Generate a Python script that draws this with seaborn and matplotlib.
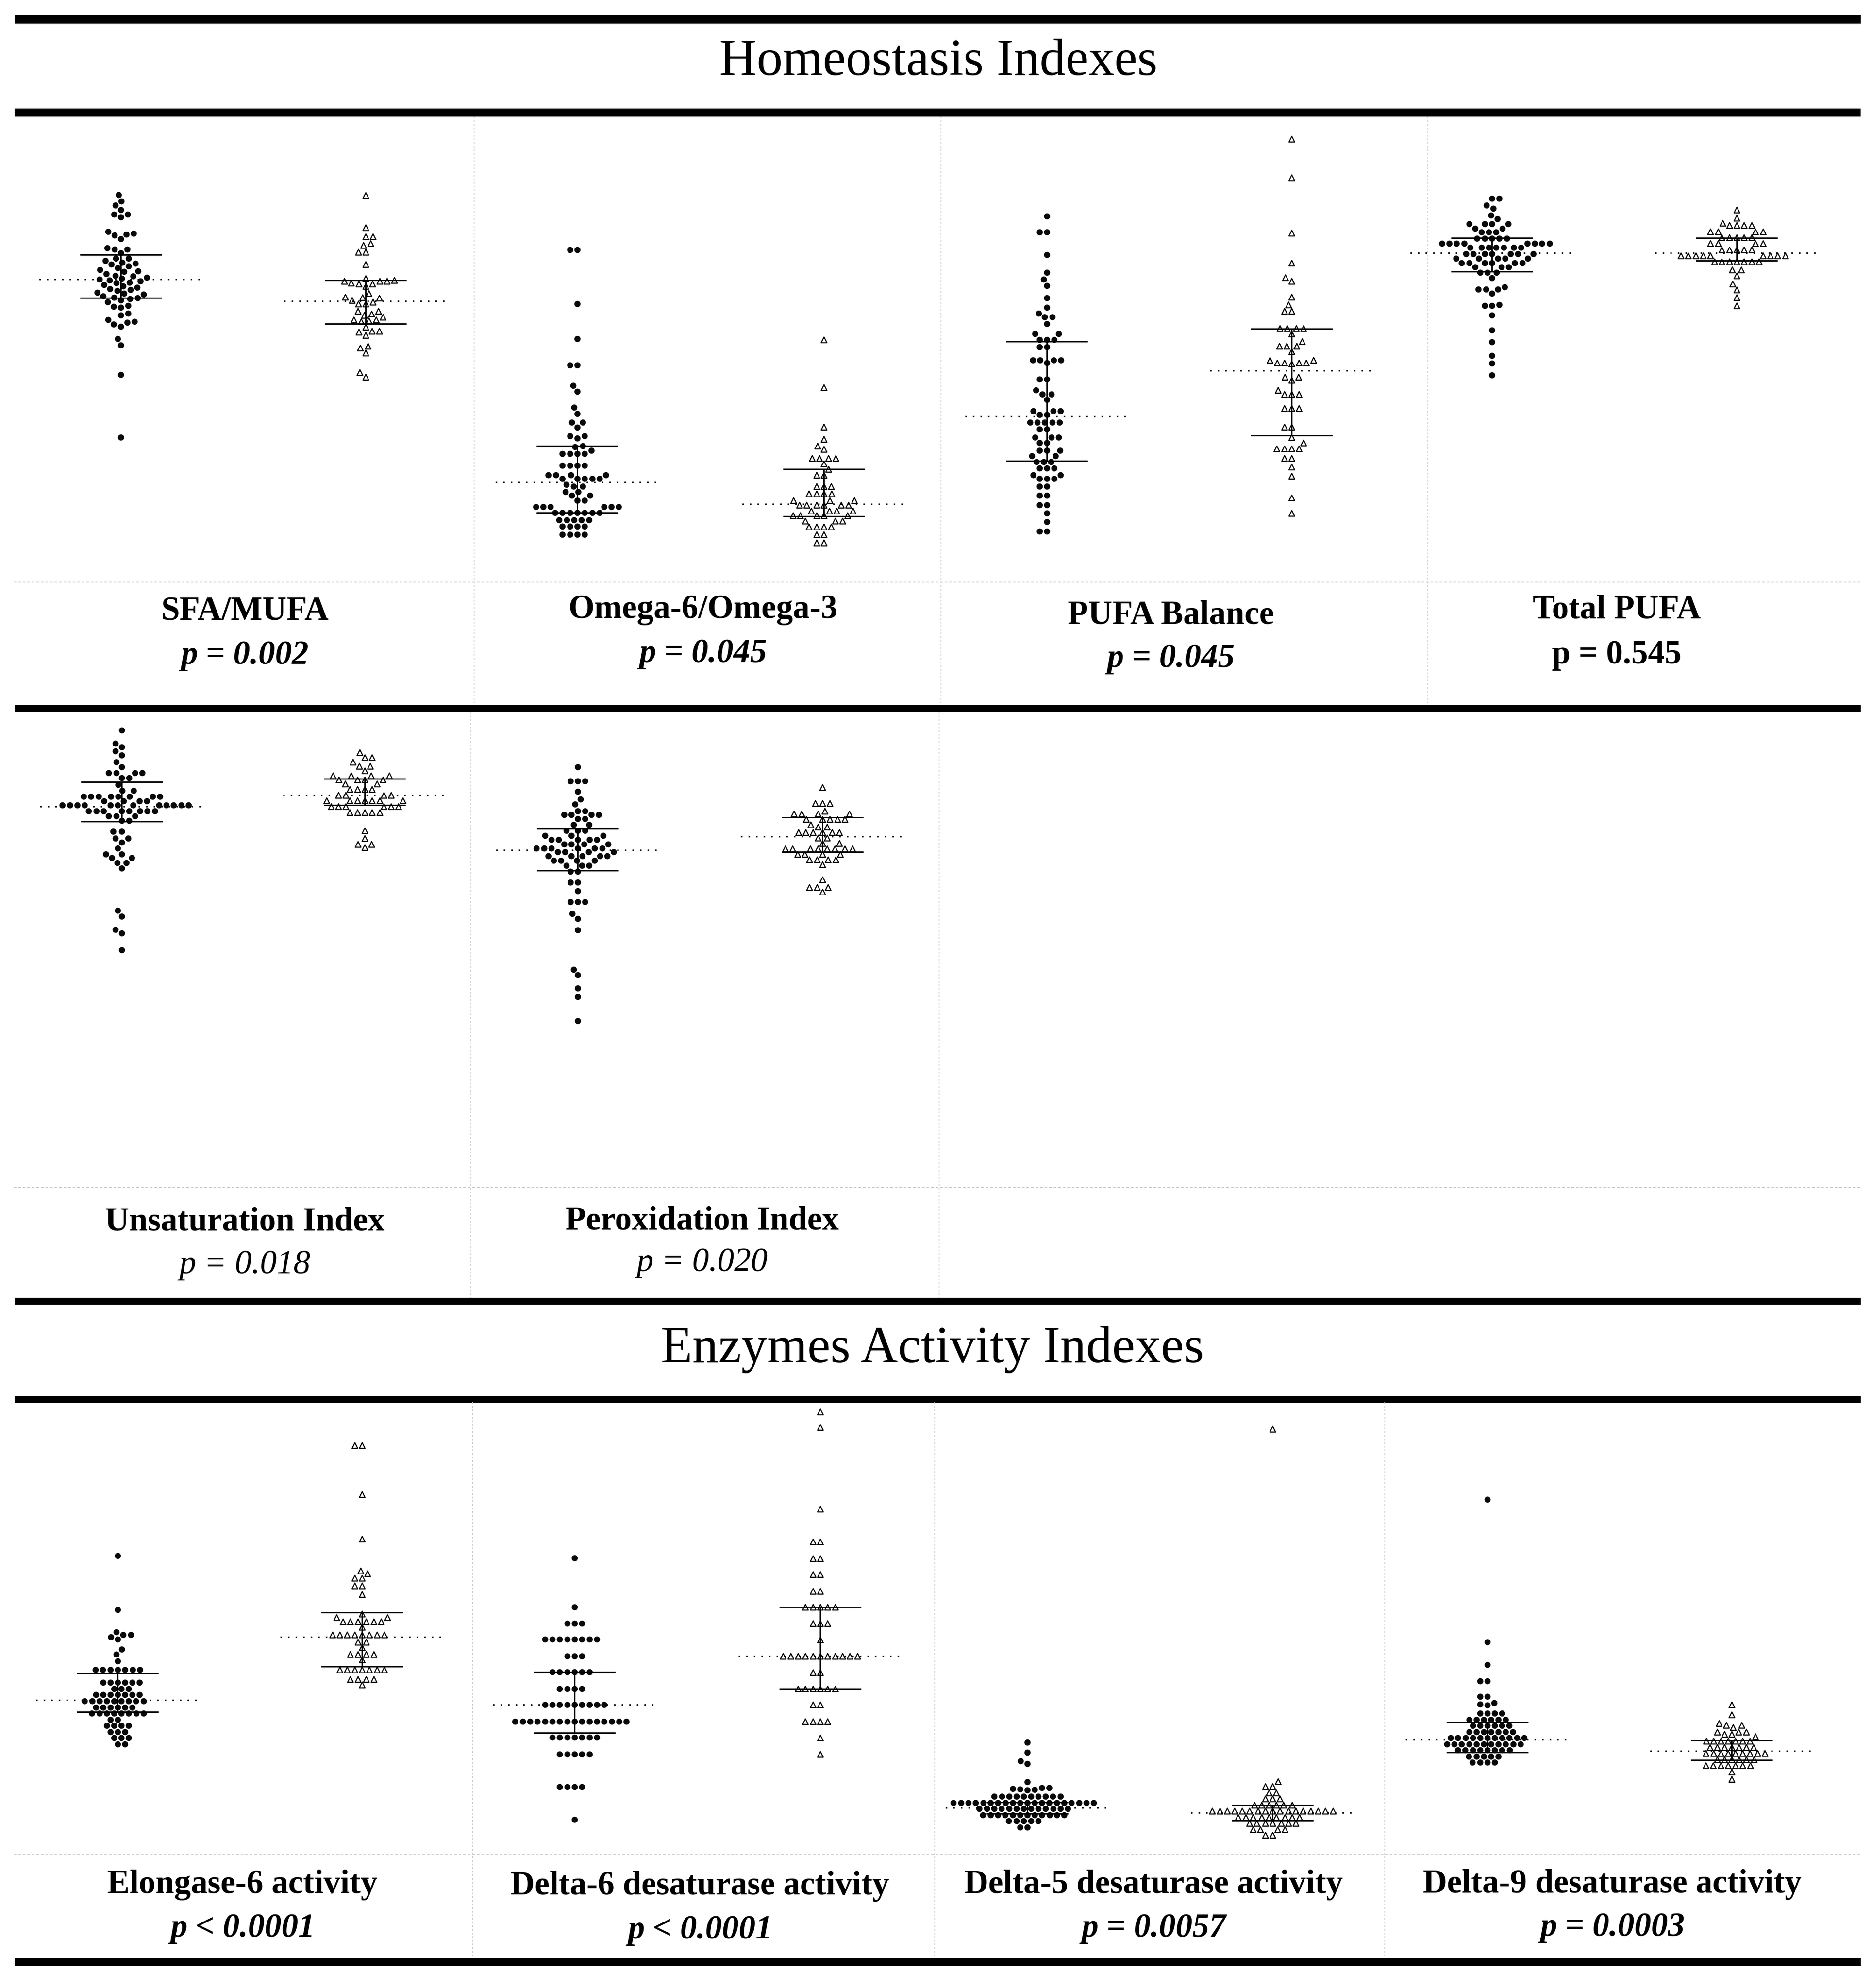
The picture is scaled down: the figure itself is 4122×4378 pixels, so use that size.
import matplotlib
matplotlib.use("Agg")
import matplotlib.pyplot as plt
import numpy as np
import pandas as pd
import seaborn as sns
import warnings
warnings.filterwarnings("ignore")

# ---------------------------------------------------------------- data
# values are relative heights (no y scale is shown)
GROUPS = ["Group A", "Group B"]

SFA_G1 = [103.0, 101.3, 100.2, 98.9, 97.7, 97.7, 97.0, 93.2, 92.7, 92.5, 92.2, 91.2, 88.8, 88.5, 87.5, 88.5,
          86.0, 86.0, 85.5, 85.0, 84.7, 84.5, 84.0, 83.5, 83.0, 82.7, 82.5, 82.0, 81.5, 81.3, 81.0, 80.7,
          80.5, 80.3, 80.0, 79.7, 79.5, 79.0, 78.7, 78.3, 78.0, 77.7, 77.5, 77.0, 76.7, 76.5, 76.0, 75.7,
          75.5, 75.3, 75.0, 74.5, 73.5, 73.3, 73.0, 71.5, 71.0, 69.7, 69.3, 69.0, 68.5, 68.0, 64.7, 63.0,
          55.2, 38.5]
SFA_G2 = [102.8, 94.2, 91.8, 91.8, 89.5, 90.0, 87.7, 87.7, 84.5, 80.2, 80.0, 79.3, 79.5, 80.7, 78.7, 79.3,
          80.0, 80.0, 76.7, 75.7, 74.0, 75.0, 74.0, 75.5, 74.5, 75.8, 72.0, 71.0, 72.0, 70.5, 71.3, 69.5,
          69.7, 69.3, 69.7, 67.8, 66.7, 65.7, 66.5, 66.7, 62.3, 61.0, 62.8, 54.5, 55.7]

OMEGA_G1 = [88.3, 88.3, 74.0, 64.7, 57.7, 57.7, 52.3, 50.7, 46.5, 44.8, 42.5, 42.5, 41.2, 38.8, 38.8, 38.3,
            36.0, 36.2, 35.0, 34.2, 34.2, 34.2, 34.2, 31.0, 31.0, 31.0, 31.0, 28.5, 28.5, 28.5, 28.5, 27.5,
            27.5, 27.5, 27.5, 27.5, 25.5, 25.5, 26.0, 24.0, 24.0, 23.0, 23.0, 21.7, 21.7, 20.0, 20.0, 20.0,
            20.0, 20.0, 20.0, 18.5, 18.5, 18.5, 18.5, 18.5, 18.5, 18.5, 16.5, 16.5, 16.5, 16.5, 16.5, 14.8,
            14.8, 14.8, 14.8, 12.7, 12.7, 12.7, 12.7]
OMEGA_G2 = [64.5, 51.8, 41.3, 38.0, 35.3, 36.2, 33.0, 33.0, 33.0, 33.0, 31.5, 30.0, 28.5, 28.5, 25.5, 25.5,
            25.5, 23.5, 23.5, 23.5, 23.5, 21.7, 21.7, 21.7, 20.5, 20.5, 20.5, 20.5, 20.5, 20.5, 19.0, 19.0,
            19.0, 19.0, 17.7, 17.7, 17.7, 17.7, 17.7, 16.3, 16.3, 16.3, 14.7, 14.7, 14.7, 14.7, 12.7, 12.7,
            10.5, 10.5]

PUFAB_G1 = [97.3, 93.0, 93.0, 87.0, 82.3, 80.5, 78.8, 75.5, 73.0, 71.5, 70.5, 70.5, 68.7, 66.0, 66.0, 64.5,
            64.5, 64.5, 62.5, 62.5, 59.0, 59.0, 59.0, 59.0, 58.3, 54.0, 54.0, 51.0, 50.0, 50.0, 48.5, 45.5,
            45.5, 45.5, 44.5, 44.5, 42.5, 42.5, 42.5, 42.5, 42.5, 40.7, 40.7, 38.5, 38.5, 38.5, 37.0, 37.0,
            35.0, 35.0, 35.0, 33.5, 33.5, 32.0, 32.0, 32.0, 30.3, 30.3, 30.3, 28.5, 28.5, 27.5, 27.5, 27.5,
            25.5, 25.5, 23.0, 23.0, 20.5, 20.5, 18.3, 16.0, 13.5, 13.5]
PUFAB_G2 = [117.8, 107.5, 92.8, 84.9, 81.0, 80.0, 75.8, 73.7, 72.0, 72.0, 67.5, 67.5, 67.5, 67.5, 66.0, 64.0,
            62.7, 62.7, 62.7, 61.3, 59.0, 59.0, 58.3, 58.3, 58.3, 58.3, 58.0, 54.5, 54.5, 53.7, 51.0, 50.0,
            50.0, 50.0, 46.2, 46.2, 46.2, 41.3, 41.3, 38.5, 37.0, 35.5, 35.5, 35.5, 35.5, 33.0, 33.0, 30.7,
            28.3, 22.5, 18.3]

TOTAL_G1 = [102.0, 102.0, 100.2, 99.3, 97.5, 96.5, 95.2, 95.2, 95.2, 95.2, 94.0, 94.0, 93.0, 93.0, 93.0, 91.3,
            91.3, 91.3, 91.3, 91.3, 90.0, 90.0, 90.0, 90.0, 90.0, 90.0, 90.0, 90.0, 89.0, 89.0, 89.0, 89.0,
            89.0, 89.0, 89.0, 87.3, 87.3, 87.3, 87.3, 87.3, 87.3, 87.3, 86.0, 86.0, 86.0, 86.0, 86.0, 84.8,
            84.8, 84.8, 84.8, 84.8, 84.8, 83.7, 83.7, 83.7, 82.3, 82.3, 82.3, 80.8, 78.5, 77.8, 77.8, 77.8,
            76.7, 73.5, 73.5, 73.7, 71.0, 67.0, 63.8, 60.2, 58.2, 55.0]
TOTAL_G2 = [99.0, 96.8, 95.5, 94.8, 94.8, 94.8, 94.8, 93.2, 93.2, 93.2, 93.2, 91.6, 91.6, 91.6, 91.6, 91.6,
            90.0, 90.0, 90.0, 90.0, 88.4, 88.4, 88.4, 88.4, 88.4, 86.8, 86.8, 86.8, 86.8, 86.8, 86.8, 86.8,
            86.8, 86.8, 85.2, 85.2, 85.2, 85.2, 85.2, 85.2, 85.2, 83.0, 83.0, 81.5, 79.3, 77.7, 75.7, 73.5]

UNSAT_G1 = [117.0, 113.6, 112.6, 111.6, 110.6, 108.8, 107.6, 106.0, 106.0, 106.0, 106.0, 104.8, 104.8, 103.0,
            101.5, 101.5, 100.0, 100.0, 100.0, 100.0, 100.0, 100.0, 100.0, 100.0, 98.8, 98.8, 98.8, 98.8,
            97.8, 97.8, 97.8, 97.8, 97.8, 97.8, 97.8, 97.8, 97.8, 97.8, 97.8, 97.8, 96.3, 96.3, 96.3, 96.3,
            96.3, 96.3, 96.3, 96.3, 95.0, 95.0, 95.0, 93.8, 93.8, 91.0, 91.0, 89.3, 89.3, 88.3, 86.8, 85.3,
            85.3, 84.3, 84.3, 83.0, 83.0, 81.6, 70.8, 69.3, 66.0, 65.0, 60.8]
UNSAT_G2 = [111.3, 110.0, 110.0, 108.8, 107.8, 107.8, 106.6, 105.3, 105.3, 105.3, 105.3, 104.3, 104.3, 104.3,
            104.3, 103.3, 103.3, 101.9, 101.9, 101.9, 101.9, 100.4, 100.4, 100.4, 100.4, 98.9, 98.9, 98.9,
            98.9, 98.9, 98.9, 98.9, 97.4, 97.4, 97.4, 97.4, 97.4, 97.4, 95.9, 95.9, 95.9, 95.9, 95.9,
            91.3, 89.3, 87.8, 87.8, 87.0]

PEROX_G1 = [107.6, 104.0, 104.0, 104.0, 101.3, 99.3, 98.0, 96.3, 96.3, 95.3, 95.3, 95.3, 95.3, 94.3, 94.3,
            92.8, 92.8, 91.3, 91.3, 91.3, 90.0, 90.0, 90.0, 89.0, 89.0, 89.0, 89.0, 89.0, 87.8, 87.8, 87.8,
            87.8, 86.8, 86.8, 86.8, 86.8, 86.8, 86.8, 85.8, 85.8, 85.8, 85.8, 84.8, 84.8, 84.8, 84.8, 84.8,
            83.6, 83.6, 83.6, 83.6, 82.3, 82.3, 82.3, 80.8, 80.8, 78.0, 78.0, 75.8, 73.0, 73.0, 73.0, 70.0,
            68.8, 65.8, 55.8, 54.3, 51.0, 48.8, 42.6]
PEROX_G2 = [102.3, 98.3, 98.3, 98.3, 96.3, 95.6, 95.6, 95.6, 95.6, 94.2, 94.2, 94.2, 94.2, 94.2, 92.8, 92.2,
            92.2, 90.8, 90.8, 90.8, 90.8, 90.8, 90.8, 89.4, 89.4, 88.0, 88.0, 86.6, 86.6, 86.6, 86.6, 86.6,
            86.6, 86.6, 86.6, 85.2, 85.2, 85.2, 85.2, 83.8, 83.8, 83.8, 83.8, 82.6, 78.8, 76.8, 76.8, 76.8,
            75.6]

ELONG_G1 = [77.6, 63.5, 57.0, 56.5, 55.8, 57.0, 57.7, 53.2, 52.0, 50.2, 48.0, 48.0, 48.0, 48.0, 48.0, 48.0,
            48.0, 44.6, 44.6, 44.6, 44.6, 44.6, 44.6, 43.0, 43.0, 43.0, 41.4, 41.4, 41.4, 41.4, 41.4, 41.4,
            41.4, 39.8, 39.8, 39.8, 39.8, 39.8, 39.8, 39.8, 39.8, 39.8, 38.2, 38.2, 38.2, 38.2, 38.2, 38.2,
            36.6, 36.6, 36.6, 36.6, 36.6, 36.6, 36.6, 36.6, 35.0, 35.0, 33.4, 33.4, 33.4, 33.4, 31.8, 31.8,
            31.8, 30.2, 30.2, 30.2, 28.6, 28.6]
ELONG_G2 = [106.3, 106.3, 93.5, 82.0, 73.7, 73.0, 71.8, 71.8, 69.8, 69.8, 67.5, 62.5, 61.5, 61.5, 60.5, 60.5,
            60.5, 60.5, 60.5, 60.5, 59.0, 57.0, 57.0, 57.0, 57.0, 57.0, 57.0, 57.0, 57.0, 55.2, 55.2, 53.7,
            52.0, 52.0, 52.0, 52.0, 50.5, 48.0, 48.0, 48.0, 48.0, 48.0, 48.0, 48.0, 45.5, 45.5, 45.5, 45.5,
            44.0]

D6_G1 = [77.0, 64.3, 60.0, 60.0, 60.0, 55.8, 55.8, 55.8, 55.8, 55.8, 55.8, 55.8, 55.8, 51.5, 51.5, 51.5,
         47.3, 47.3, 47.3, 47.3, 47.3, 47.3, 43.0, 43.0, 43.0, 43.0, 38.8, 38.8, 38.8, 38.8, 38.8, 38.8,
         38.8, 38.8, 38.8, 34.5, 34.5, 34.5, 34.5, 34.5, 34.5, 34.5, 34.5, 34.5, 34.5, 34.5, 34.5, 34.5,
         34.5, 34.5, 34.5, 30.3, 30.3, 30.3, 30.3, 30.3, 30.3, 30.3, 26.0, 26.0, 26.0, 26.0, 26.0, 17.5,
         17.5, 17.5, 17.5, 9.0]
D6_G2 = [115.0, 111.0, 89.7, 81.2, 81.2, 76.9, 76.9, 72.7, 72.7, 68.4, 68.4, 64.3, 64.3, 64.3, 64.3, 64.3,
         60.0, 60.0, 60.0, 55.7, 51.5, 51.5, 51.5, 51.5, 51.5, 51.5, 51.5, 51.5, 51.5, 51.5, 51.5, 47.2,
         47.2, 43.0, 43.0, 43.0, 43.0, 43.0, 43.0, 38.8, 38.8, 34.5, 34.5, 34.5, 34.5, 30.2, 26.0]

D5_G1 = [29.0, 26.5, 24.2, 23.5, 18.8, 17.2, 16.8, 16.6, 17.0, 16.9, 17.3, 15.0, 15.0, 15.0, 15.0, 15.0,
         15.0, 15.0, 15.0, 15.0, 15.0, 13.4, 13.4, 13.4, 13.4, 13.4, 13.4, 13.4, 13.4, 13.4, 13.4, 13.4,
         13.4, 13.4, 13.4, 13.4, 13.4, 13.4, 13.4, 13.4, 13.4, 11.8, 11.8, 11.8, 11.8, 11.8, 11.8, 11.8,
         11.8, 11.8, 11.8, 11.8, 11.8, 11.8, 10.2, 10.2, 10.2, 10.2, 10.2, 10.2, 10.2, 10.2, 10.2, 10.2,
         10.2, 10.2, 8.6, 8.6, 8.6, 8.6, 8.6, 7.0, 7.0]
D5_G2 = [110.5, 18.9, 17.6, 17.6, 16.0, 16.0, 14.4, 14.4, 14.4, 12.8, 12.8, 12.8, 12.8, 12.8, 12.8, 11.2,
         11.2, 11.2, 11.2, 11.2, 11.2, 11.2, 11.2, 11.2, 11.2, 11.2, 11.2, 11.2, 11.2, 11.2, 11.2, 11.2,
         9.6, 9.6, 9.6, 9.6, 9.6, 9.6, 9.6, 9.6, 9.6, 8.0, 8.0, 8.0, 8.0, 8.0, 8.0, 8.0, 6.4, 6.4,
         6.4, 6.4, 5.0, 5.0]

D9_G1 = [92.2, 55.2, 49.3, 45.0, 45.0, 41.0, 41.0, 39.0, 38.7, 39.3, 36.6, 36.6, 36.6, 36.6, 35.0, 35.0,
         35.0, 35.0, 35.0, 35.0, 33.4, 33.4, 33.4, 33.4, 33.4, 33.4, 31.8, 31.8, 31.8, 31.8, 31.8, 31.8,
         31.8, 30.2, 30.2, 30.2, 30.2, 30.2, 30.2, 30.2, 30.2, 30.2, 30.2, 30.2, 28.6, 28.6, 28.6, 28.6,
         28.6, 28.6, 28.6, 28.6, 28.6, 28.6, 28.6, 27.0, 27.0, 27.0, 27.0, 27.0, 27.0, 27.0, 27.0, 25.4,
         25.4, 25.4, 25.4, 25.4, 23.8, 23.8, 23.8, 23.8]
D9_G2 = [38.8, 36.2, 33.5, 33.5, 34.0, 33.0, 31.8, 31.8, 31.8, 31.2, 31.2, 30.6, 29.4, 29.4, 29.4, 29.4,
         29.4, 29.4, 29.4, 27.8, 27.8, 27.8, 27.8, 27.8, 27.8, 27.8, 26.2, 26.2, 26.2, 26.2, 26.2, 26.2,
         26.2, 26.2, 26.2, 24.6, 24.6, 24.6, 24.6, 24.6, 24.6, 23.0, 23.0, 23.0, 23.0, 23.0, 23.0, 23.0,
         21.4, 19.5]

# median, lower quartile, upper quartile for (group A, group B)
SFA_STATS = [(80.5, 75.5, 87.0), (74.7, 68.7, 80.2)]
OMEGA_STATS = [(26.5, 18.5, 36.2), (20.8, 17.5, 30.0)]
PUFAB_STATS = [(44.0, 32.2, 64.0), (56.2, 39.0, 67.3)]
TOTAL_STATS = [(87.5, 82.5, 91.5), (87.5, 85.5, 91.5)]
UNSAT_STATS = [(97.5, 93.6, 103.7), (100.3, 97.8, 104.5)]
PEROX_STATS = [(86.3, 81.1, 91.8), (89.8, 85.8, 94.6)]
ELONG_STATS = [(40.0, 37.0, 47.0), (56.5, 48.8, 62.8)]
D6_STATS = [(38.8, 31.5, 47.3), (51.5, 43.0, 64.3)]
D5_STATS = [(12.0, 10.5, 13.5), (10.8, 8.7, 12.8)]
D9_STATS = [(29.8, 26.5, 34.2), (26.8, 24.5, 29.5)]

SECTION_TITLES = ["Homeostasis Indexes", "Enzymes Activity Indexes"]
LABELS = ["SFA/MUFA", "Omega-6/Omega-3", "PUFA Balance", "Total PUFA",
          "Unsaturation Index", "Peroxidation Index",
          "Elongase-6 activity", "Delta-6 desaturase activity",
          "Delta-5 desaturase activity", "Delta-9 desaturase activity"]
PVALUES = ["p = 0.002", "p = 0.045", "p = 0.045", "p = 0.545",
           "p = 0.018", "p = 0.020",
           "p < 0.0001", "p < 0.0001", "p = 0.0057", "p = 0.0003"]

# ---------------------------------------------------------------- layout (pixels)
W, H, DPI = 4122, 4378, 100
sns.set_theme(style="white")
plt.rcParams["font.family"] = ["Liberation Serif", "DejaVu Serif"]

fig = plt.figure(figsize=(W / DPI, H / DPI), dpi=DPI)
fig.patch.set_facecolor("white")
bg = fig.add_axes([0, 0, 1, 1])
bg.set_xlim(0, W)
bg.set_ylim(H, 0)
bg.axis("off")

PX = 0.72  # points per pixel at 100 dpi
PITCH = 11.2  # spacing size used by the swarm layout (points)
DOT_STYLE = dict(marker="o", s=9.8 ** 2, c="#0a0a0a", linewidths=0, zorder=2)
TRI_STYLE = dict(marker="^", s=9.0 ** 2, facecolors="white", edgecolors="#000000",
                 linewidths=1.7, zorder=2)

# rows: (top px, bottom px, y-limit)
ROWS = {0: (257, 1282, 123.7), 1: (1568, 2615, 121.6), 2: (3088, 4083, 117.5)}

# panel: (data1, data2, stats, row, x of group A, x of group B, label x, label baseline, p baseline, p style)
PANELS = [
    (SFA_G1, SFA_G2, SFA_STATS, 0, 266, 805, 539, 1365, 1462, "bi"),
    (OMEGA_G1, OMEGA_G2, OMEGA_STATS, 0, 1271, 1814, 1548, 1361, 1458, "bi"),
    (PUFAB_G1, PUFAB_G2, PUFAB_STATS, 0, 2305, 2844, 2578, 1373, 1469, "bi"),
    (TOTAL_G1, TOTAL_G2, TOTAL_STATS, 0, 3285, 3824, 3560, 1361, 1461, "b"),
    (UNSAT_G1, UNSAT_G2, UNSAT_STATS, 1, 268, 803, 539, 2710, 2804, "i"),
    (PEROX_G1, PEROX_G2, PEROX_STATS, 1, 1272, 1811, 1546, 2707, 2799, "i"),
    (ELONG_G1, ELONG_G2, ELONG_STATS, 2, 259, 797, 534, 4169, 4265, "bi"),
    (D6_G1, D6_G2, D6_STATS, 2, 1265, 1806, 1541, 4172, 4269, "bi"),
    (D5_G1, D5_G2, D5_STATS, 2, 2262, 2802, 2540, 4169, 4265, "bi"),
    (D9_G1, D9_G2, D9_STATS, 2, 3275, 3813, 3550, 4168, 4263, "bi"),
]

# ---------------------------------------------------------------- frame lines
def hline(y, x0, x1, lw_px, color="black", ls="-"):
    bg.plot([x0, x1], [y, y], color=color, lw=lw_px * PX, ls=ls, solid_capstyle="butt", zorder=1)

def vline(x, y0, y1, lw_px=2, color="#cfcfcf", ls=(0, (2, 2))):
    bg.plot([x, x], [y0, y1], color=color, lw=lw_px * PX, ls=ls, zorder=1)

for y, lw in [(42, 19), (248, 18), (1560, 15), (2865, 15), (3081, 15), (4320, 17)]:
    hline(y, 32, 4097, lw)

grid_style = dict(color="#cfcfcf", ls=(0, (3, 2)))
for y in [1282, 2615, 4083]:
    hline(y, 30, 4100, 2, **grid_style)

for x in [1044, 2072, 3144]:
    vline(x, 257, 1553)
for x in [1037, 2068]:
    vline(x, 1568, 2858)
for x in [1041, 2058, 3049]:
    vline(x, 3088, 4312)

bg.text(2066, 165, SECTION_TITLES[0], ha="center", va="baseline", fontsize=82, color="black")
bg.text(2053, 3000, SECTION_TITLES[1], ha="center", va="baseline", fontsize=82, color="black")

# ---------------------------------------------------------------- panels
swarms = []  # (collection, final style)
for i, (g1, g2, stats, row, c1, c2, lx, ly, py, pstyle) in enumerate(PANELS):
    top, bottom, ymax = ROWS[row]
    d = c2 - c1
    left = c1 - d / 2
    ax = fig.add_axes([left / W, 1 - bottom / H, 2 * d / W, (bottom - top) / H])
    ax.set_facecolor("none")
    for grp, vals, style in [(GROUPS[0], g1, DOT_STYLE), (GROUPS[1], g2, TRI_STYLE)]:
        before = set(ax.collections)
        df = pd.DataFrame({"group": grp, "value": vals})
        sns.swarmplot(data=df, x="group", y="value", order=GROUPS, ax=ax,
                      color="black", marker=style["marker"], size=PITCH, linewidth=0)
        for coll in ax.collections:
            if coll not in before:
                swarms.append((coll, style))
    ax.set_xlim(-0.5, 1.5)
    ax.set_ylim(0, ymax)
    ax.axis("off")
    half_med = 180 / d
    half_cap = 90 / d
    for k, (med, q1, q3) in enumerate(stats):
        ax.hlines(med, k - half_med, k + half_med, colors="black", lw=2.4,
                  linestyles=(0, (1, 4)), zorder=6)
        ax.hlines([q1, q3], k - half_cap, k + half_cap, colors="black", lw=2.2, zorder=6)
        ax.vlines(k, q1, q3, colors="black", lw=2.2, zorder=6)

    bg.text(lx, ly, LABELS[i], ha="center", va="baseline", fontsize=53,
            fontweight="bold", color="black")
    weight = "bold" if "b" in pstyle else "normal"
    style = "italic" if "i" in pstyle else "normal"
    bg.text(lx, py, PVALUES[i], ha="center", va="baseline", fontsize=53,
            fontweight=weight, fontstyle=style, color="black")

# let seaborn lay out the swarms (with a little breathing room between markers),
# then redraw the same swarm positions with the final, slightly smaller markers
fig.canvas.draw()
for coll, style in swarms:
    ax = coll.axes
    offs = np.asarray(coll.get_offsets())
    coll.remove()
    ax.scatter(offs[:, 0], offs[:, 1], **style)

fig.savefig("out.png", dpi=DPI, facecolor="white")
